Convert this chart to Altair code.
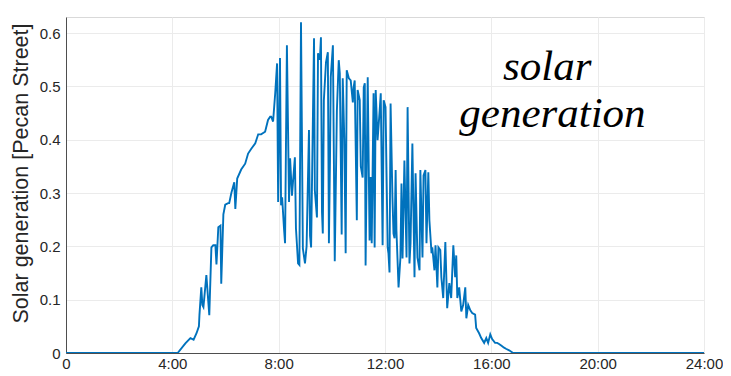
import altair as alt
import pandas as pd

# time of day in hours, and solar generation values
hours = [
    0.0, 4.2, 4.49, 4.68, 4.8, 4.91, 5.0, 5.02, 5.09, 5.13, 5.17, 5.28, 5.39, 5.47,
    5.54, 5.62, 5.66, 5.73, 5.81, 5.84, 5.92, 5.99, 6.1, 6.14, 6.22, 6.33, 6.37, 6.44,
    6.59, 6.74, 6.85, 6.97, 7.12, 7.23, 7.34, 7.49, 7.6, 7.68, 7.72, 7.79, 7.87, 7.94,
    7.98, 8.05, 8.09, 8.13, 8.2, 8.24, 8.31, 8.39, 8.43, 8.5, 8.61, 8.65, 8.73, 8.78,
    8.84, 8.91, 8.99, 9.05, 9.14, 9.18, 9.22, 9.33, 9.36, 9.44, 9.48, 9.55, 9.59, 9.63,
    9.66, 9.7, 9.78, 9.85, 9.89, 9.93, 9.96, 10.04, 10.11, 10.19, 10.26, 10.3, 10.37,
    10.41, 10.47, 10.52, 10.56, 10.64, 10.71, 10.79, 10.82, 10.86, 10.94, 10.97, 11.05,
    11.09, 11.16, 11.2, 11.24, 11.27, 11.35, 11.42, 11.46, 11.5, 11.57, 11.61, 11.65,
    11.72, 11.8, 11.84, 11.91, 11.95, 12.02, 12.1, 12.13, 12.17, 12.21, 12.28, 12.32,
    12.36, 12.4, 12.43, 12.51, 12.58, 12.62, 12.66, 12.73, 12.81, 12.85, 12.92, 12.96,
    13.03, 13.11, 13.15, 13.22, 13.3, 13.33, 13.41, 13.45, 13.52, 13.56, 13.63, 13.67,
    13.75, 13.78, 13.86, 13.9, 13.97, 14.01, 14.08, 14.12, 14.19, 14.27, 14.34, 14.42,
    14.49, 14.57, 14.64, 14.68, 14.72, 14.79, 14.87, 14.94, 15.02, 15.06, 15.13, 15.21,
    15.28, 15.39, 15.43, 15.54, 15.62, 15.73, 15.81, 15.88, 15.96, 16.03, 16.14, 16.22,
    16.29, 16.37, 16.48, 16.55, 16.67, 16.82, 24.0,
]
generation = [
    0.0, 0.0, 0.018, 0.028, 0.025, 0.037, 0.05, 0.071, 0.123, 0.09, 0.086, 0.146, 0.071, 0.198,
    0.202, 0.202, 0.166, 0.236, 0.239, 0.13, 0.26, 0.278, 0.281, 0.281, 0.3, 0.32, 0.27, 0.327,
    0.344, 0.355, 0.374, 0.383, 0.393, 0.41, 0.41, 0.415, 0.437, 0.443, 0.443, 0.434, 0.487, 0.543,
    0.283, 0.553, 0.277, 0.292, 0.234, 0.206, 0.577, 0.283, 0.365, 0.295, 0.367, 0.234, 0.168, 0.165,
    0.62, 0.196, 0.168, 0.2, 0.418, 0.22, 0.198, 0.59, 0.305, 0.254, 0.562, 0.55, 0.592, 0.264,
    0.224, 0.474, 0.545, 0.564, 0.206, 0.36, 0.517, 0.577, 0.172, 0.455, 0.549, 0.524, 0.222,
    0.515, 0.4, 0.187, 0.53, 0.515, 0.511, 0.47, 0.498, 0.511, 0.249, 0.493, 0.474,
    0.35, 0.329, 0.498, 0.506, 0.164, 0.517, 0.211, 0.33, 0.206, 0.487, 0.198, 0.493,
    0.399, 0.455, 0.487, 0.202, 0.474, 0.461, 0.198, 0.187, 0.151, 0.468, 0.292, 0.224,
    0.215, 0.343, 0.23, 0.123, 0.179, 0.318, 0.177, 0.361, 0.179, 0.461, 0.168, 0.206,
    0.393, 0.142, 0.337, 0.179, 0.155, 0.343, 0.179, 0.333, 0.343, 0.206, 0.339, 0.249,
    0.187, 0.198, 0.155, 0.202, 0.123, 0.198, 0.193, 0.142, 0.103, 0.208, 0.084, 0.131,
    0.103, 0.202, 0.142, 0.183, 0.103, 0.123, 0.078, 0.09, 0.123, 0.065, 0.09, 0.08,
    0.075, 0.072, 0.047, 0.037, 0.028, 0.019, 0.028, 0.019, 0.035, 0.026, 0.019, 0.019,
    0.017, 0.014, 0.01, 0.008, 0.005, 0.0, 0.0,
]

tick_hours = [0, 4, 8, 12, 16, 20, 24]
tick_labels = ["0", "4:00", "8:00", "12:00", "16:00", "20:00", "24:00"]
y_ticks = [0, 0.1, 0.2, 0.3, 0.4, 0.5, 0.6]
y_labels = ["0", "0.1", "0.2", "0.3", "0.4", "0.5", "0.6"]

note_lines = ["solar", "generation"]
note_hour = [18.1, 18.3]
note_value = [0.511, 0.423]

df = pd.DataFrame({"hour": hours, "generation": generation})
notes = pd.DataFrame({"text": note_lines, "hour": note_hour, "generation": note_value})


def make_expr(vals, labels):
    return " : ".join(
        f"abs(datum.value - {v}) < 1e-6 ? '{l}'" for v, l in zip(vals, labels)
    ) + " : ''"


W, H = 638, 336
xscale = alt.Scale(domain=[0, 24], nice=False, zero=False)
yscale = alt.Scale(domain=[0, 0.63], nice=False)

line = alt.Chart(df).mark_line(color="#0072BD", strokeWidth=1.9, clip=True).encode(
    x=alt.X(
        "hour:Q",
        scale=xscale,
        axis=alt.Axis(
            values=tick_hours, labelExpr=make_expr(tick_hours, tick_labels), title=None,
            labelFont="Liberation Sans", labelFontSize=15, labelColor="#262626",
            labelPadding=3, tickSize=0, domainColor="#262626", domainWidth=0.8,
            gridColor="#ebebeb", gridWidth=1, labelFlush=False,
        ),
    ),
    y=alt.Y(
        "generation:Q",
        scale=yscale,
        axis=alt.Axis(
            values=y_ticks, labelExpr=make_expr(y_ticks, y_labels),
            title="Solar generation [Pecan Street]",
            labelFont="Liberation Sans", labelFontSize=15, labelColor="#262626",
            labelPadding=6, tickSize=0, domainColor="#262626", domainWidth=0.8,
            gridColor="#ebebeb", gridWidth=1,
            titleFont="Liberation Sans", titleFontSize=21.5, titleFontWeight="normal",
            titleColor="#262626", titleX=-45, titleY=156, titleAngle=270,
            titleAlign="center", titleBaseline="middle",
        ),
    ),
)

text = alt.Chart(notes).mark_text(
    font="Liberation Serif", fontStyle="italic", fontSize=43, color="black",
    align="center", baseline="alphabetic",
).encode(
    x=alt.X("hour:Q", scale=xscale),
    y=alt.Y("generation:Q", scale=yscale),
    text="text:N",
)

chart = (
    alt.layer(line, text)
    .properties(
        width=W, height=H,
        autosize=alt.AutoSizeParams(type="none"),
        padding={"left": 58, "top": 9, "right": 19, "bottom": 22},
        background="white",
    )
    .configure_view(stroke="#d9d9d9", strokeWidth=1)
)

chart.save("out.html", embed_options={"renderer": "svg", "actions": False})
